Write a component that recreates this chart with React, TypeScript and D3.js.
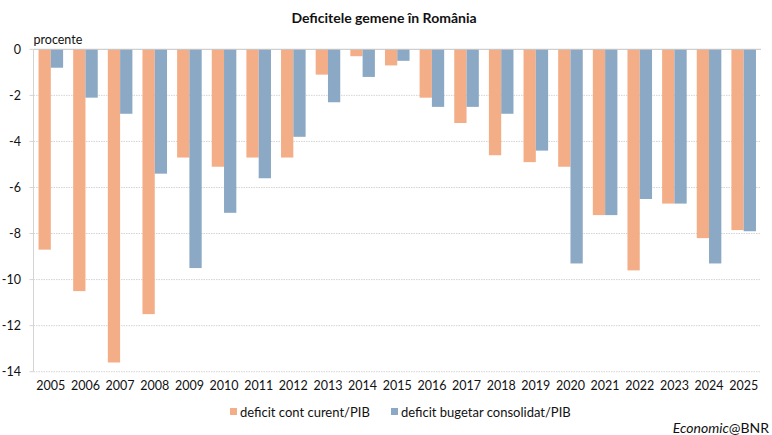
import React from 'react';
import * as d3 from 'd3';

const years = [
  '2005', '2006', '2007', '2008', '2009', '2010', '2011', '2012', '2013', '2014', '2015',
  '2016', '2017', '2018', '2019', '2020', '2021', '2022', '2023', '2024', '2025',
];
const contCurent = [
  -8.7, -10.5, -13.6, -11.5, -4.7, -5.1, -4.7, -4.7, -1.1, -0.3, -0.7,
  -2.1, -3.2, -4.6, -4.9, -5.1, -7.2, -9.6, -6.7, -8.2, -7.85,
];
const bugetar = [
  -0.8, -2.1, -2.8, -5.4, -9.5, -7.1, -5.6, -3.8, -2.3, -1.2, -0.5,
  -2.5, -2.5, -2.8, -4.4, -9.3, -7.2, -6.5, -6.7, -9.3, -7.9,
];
const yTicks = [0, -2, -4, -6, -8, -10, -12, -14];
const seriesNames = ['deficit cont curent/PIB', 'deficit bugetar consolidat/PIB'];
const colors = ['#F4AE87', '#8BA9C5'];

const W = 772;
const H = 435;
const font = 'Lato, "Open Sans", sans-serif';

const App: React.FC = () => {
  const left = 33.5;
  const right = 761;
  const top = 49.3;
  const bottom = 371.7;

  const x = d3.scaleBand<string>().domain(years).range([left, right]).padding(0);
  const inner = d3.scaleBand<number>()
    .domain([0, 1])
    .range([0, x.bandwidth()])
    .paddingInner(0)
    .paddingOuter(0.41);
  const y = d3.scaleLinear().domain([-14, 0]).range([bottom, top]);

  const series = [contCurent, bugetar];

  return (
    <svg
      width={W}
      height={H}
      style={{ position: 'absolute', left: 0, top: 0, background: '#fff' }}
      fontFamily={font}
    >
      {/* title */}
      <text x={384} y={23} textAnchor="middle" fontSize={14} fontWeight="bold" fill="#111">
        Deficitele gemene în România
      </text>
      <text x={left} y={44} fontSize={12.5} fill="#111">procente</text>

      {/* grid */}
      {yTicks.filter(t => t !== 0).map(t => (
        <line key={t} x1={left} x2={right} y1={y(t)} y2={y(t)}
          stroke="#d4d4d4" strokeDasharray="1.5,1" strokeWidth={1} />
      ))}

      {/* bars */}
      {series.map((vals, s) =>
        vals.map((v, i) => {
          const bx = (x(years[i]) || 0) + (inner(s) || 0);
          return (
            <rect key={`${s}-${i}`} x={bx} y={y(0)} width={inner.bandwidth()}
              height={y(v) - y(0)} fill={colors[s]} />
          );
        })
      )}

      {/* zero line and left axis */}
      <line x1={left} x2={right} y1={y(0)} y2={y(0)} stroke="#c4c4c4" strokeWidth={1} />
      <line x1={left} x2={left} y1={y(0)} y2={y(-14)} stroke="#d4d4d4" strokeWidth={1} />
      {yTicks.map(t => (
        <g key={t}>
          <line x1={left - 4} x2={left} y1={y(t)} y2={y(t)} stroke="#d4d4d4" />
          <text x={21} y={y(t)} dy="0.35em" textAnchor="end" fontSize={12.5} fill="#111">{t}</text>
        </g>
      ))}

      {/* x labels */}
      {years.map(yr => (
        <text key={yr} x={(x(yr) || 0) + x.bandwidth() / 2} y={390} textAnchor="middle"
          fontSize={12.5} fill="#111">{yr}</text>
      ))}

      {/* legend */}
      {seriesNames.map((n, s) => {
        const lx = s === 0 ? 230 : 391;
        return (
          <g key={n}>
            <rect x={lx} y={408} width={7} height={7} fill={colors[s]} />
            <text x={lx + 10} y={417} fontSize={13} fill="#111">{n}</text>
          </g>
        );
      })}

      <text x={769} y={433} textAnchor="end" fontSize={14} fill="#111">
        <tspan fontStyle="italic">Economic</tspan>@BNR
      </text>
    </svg>
  );
};

export default App;
